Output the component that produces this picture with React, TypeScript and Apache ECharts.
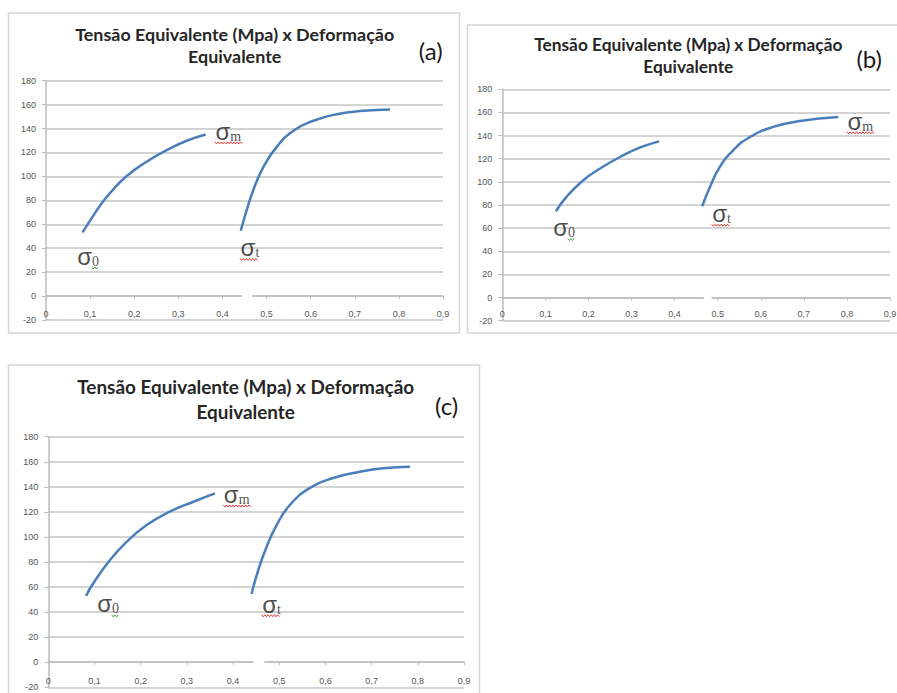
import React, { useEffect, useRef } from 'react';
import * as echarts from 'echarts';

// ---------- data ----------
const titleLine1 = 'Tensão Equivalente (Mpa) x Deformação';
const titleLine2 = 'Equivalente';
const panelTags = ['(a)', '(b)', '(c)'];

const yMin = -20;
const yMax = 180;
const yStep = 20;
const xMin = 0;
const xMax = 0.9;
const xStep = 0.1;

// Panel (a)
const aCurve1 = [[0.083, 53.2], [0.0998, 63], [0.1224, 75.5], [0.145, 86], [0.183, 100.3], [0.228, 112.2], [0.274, 122], [0.319, 129.8], [0.362, 135.1]];
const aCurve2 = [[0.4415, 54.6], [0.455, 71.8], [0.47, 88.6], [0.493, 108], [0.523, 124.7], [0.561, 138.2], [0.606, 146.5], [0.659, 152], [0.719, 154.8], [0.78, 156]];
// Panel (b)
const bCurve1 = [[0.1246, 74.6], [0.149, 87], [0.188, 101.4], [0.227, 111.5], [0.273, 121.5], [0.319, 129.6], [0.364, 135]];
const bCurve2 = [[0.464, 78.9], [0.482, 95.6], [0.505, 112.9], [0.536, 127.3], [0.575, 138.8], [0.629, 147.5], [0.691, 152.6], [0.78, 156]];
// Panel (c)
const cCurve1 = [[0.0816, 52.9], [0.0975, 63], [0.1336, 81.6], [0.17, 96.2], [0.213, 109.5], [0.263, 120.2], [0.314, 128.1], [0.361, 134.8]];
const cCurve2 = [[0.44, 54.5], [0.4546, 73.6], [0.4727, 92.2], [0.4944, 109.5], [0.523, 125.5], [0.5666, 139.2], [0.617, 147], [0.675, 152], [0.725, 154.8], [0.783, 156]];

// break in the zero line
const aGap = [[0.444, 0], [0.468, 0]];
const bGap = [[0.468, 0], [0.486, 0]];
const cGap = [[0.444, 0], [0.468, 0]];

// sigma annotations: [x, y, subscript, mark colour]
const aLabels: [number, number, string, string][] = [[0.0696, 32.6, '0', 'green'], [0.383, 136.8, 'm', 'red'], [0.44, 39.4, 't', 'red']];
const bLabels: [number, number, string, string][] = [[0.117, 59.6, '0', 'green'], [0.8, 151.5, 'm', 'red'], [0.486, 71.6, 't', 'red']];
const cLabels: [number, number, string, string][] = [[0.105, 45.7, '0', 'green'], [0.379, 133.1, 'm', 'red'], [0.462, 45.5, 't', 'red']];

const curves = [[aCurve1, aCurve2], [bCurve1, bCurve2], [cCurve1, cCurve2]];
const gaps = [aGap, bGap, cGap];
const labels = [aLabels, bLabels, cLabels];

// ---------- layout ----------
const grids = [
  { left: 46, top: 80.7, width: 397, height: 239.3 },
  { left: 502.3, top: 89.3, width: 387.7, height: 231.4 },
  { left: 48.3, top: 436.7, width: 415.7, height: 250.6 },
];
const frames = [
  { x: 8.5, y: 13, w: 451, h: 320 },
  { x: 467.5, y: 25, w: 432, h: 308 },
  { x: 8.5, y: 365, w: 471, h: 340 },
];
const titlePos = [
  { x: 234.7, y1: 33.5, y2: 56.2, size: 17.9 },
  { x: 688.3, y1: 44, y2: 66.3, size: 17.3 },
  { x: 245.7, y1: 386.5, y2: 411.2, size: 18.9 },
];
const tagPos = [
  { x: 430.8, y: 50 },
  { x: 869.2, y: 58 },
  { x: 446.7, y: 405 },
];

const BLUE = '#4a7ebb';
const GRID = '#c4c4c4';
const AXIS = '#bdbdbd';
const LABEL = '#555555';

function wavy(x0: number, x1: number, y: number): number[][] {
  const pts: number[][] = [];
  let up = true;
  for (let x = x0; x <= x1; x += 1.6) {
    pts.push([x, up ? y - 1 : y + 1]);
    up = !up;
  }
  return pts;
}

export default function App() {
  const ref = useRef<HTMLDivElement>(null);
  useEffect(() => {
    if (!ref.current) return;
    const chart = echarts.init(ref.current, undefined, { renderer: 'svg' });

    const xAxis = grids.map((_, i) => ({
      type: 'value',
      gridIndex: i,
      min: xMin,
      max: xMax,
      interval: xStep,
      axisLine: { show: true, onZero: true, lineStyle: { color: AXIS, width: 1.5 } },
      axisTick: { show: true, length: 3, lineStyle: { color: AXIS } },
      axisLabel: {
        color: LABEL,
        fontSize: 9,
        fontFamily: 'Liberation Sans',
        margin: -11,
        formatter: (v: number) => (Math.abs(v) < 1e-9 ? '0' : v.toFixed(1).replace('.', ',')),
      },
      splitLine: { show: false },
    }));
    const yAxis = grids.map((_, i) => ({
      type: 'value',
      gridIndex: i,
      min: yMin,
      max: yMax,
      interval: yStep,
      axisLine: { show: true, lineStyle: { color: AXIS, width: 1.5 } },
      axisTick: { show: true, length: 4, lineStyle: { color: AXIS } },
      axisLabel: { color: LABEL, fontSize: 9, fontFamily: 'Liberation Sans', margin: 10 },
      splitLine: { show: true, lineStyle: { color: GRID, width: 1.5 } },
    }));

    const series: any[] = [];
    curves.forEach((pair, i) => {
      pair.forEach((c) => {
        series.push({
          type: 'line',
          xAxisIndex: i,
          yAxisIndex: i,
          data: c,
          smooth: 0.5,
          showSymbol: false,
          symbol: 'none',
          lineStyle: { color: BLUE, width: 2.5 },
          z: 3,
        });
      });
      series.push({
        type: 'line',
        xAxisIndex: i,
        yAxisIndex: i,
        data: gaps[i],
        symbol: 'none',
        lineStyle: { color: '#ffffff', width: 4 },
        z: 4,
      });
      series.push({
        type: 'scatter',
        xAxisIndex: i,
        yAxisIndex: i,
        symbolSize: 1,
        itemStyle: { color: 'rgba(0,0,0,0)' },
        data: labels[i].map((l) => ({ value: [l[0], l[1]], sub: l[2] })),
        label: {
          show: true,
          position: 'right',
          distance: 0,
          offset: [0, -1],
          formatter: (p: any) => '{s|σ}{b|' + p.data.sub + '}',
          rich: {
            s: { fontSize: 24, lineHeight: 24, fontFamily: 'Liberation Sans', color: '#1a1a1a' },
            b: { fontSize: 14, lineHeight: 10, verticalAlign: 'bottom', fontFamily: 'Liberation Serif', color: '#1a1a1a' },
          },
        },
        z: 5,
      });
    });

    const baseGraphic: any[] = [];
    frames.forEach((f) => {
      baseGraphic.push({
        type: 'rect',
        shape: { x: f.x, y: f.y, width: f.w, height: f.h },
        style: { fill: 'none', stroke: '#d6d6d6', lineWidth: 1.5 },
        z: 0,
        silent: true,
      });
    });
    titlePos.forEach((t, i) => {
      baseGraphic.push({
        type: 'text',
        x: t.x,
        y: t.y1,
        style: { text: titleLine1, fontSize: t.size, fontWeight: 'bold', fontFamily: 'Lato', fill: '#262626', align: 'center', verticalAlign: 'middle' },
      });
      baseGraphic.push({
        type: 'text',
        x: t.x,
        y: t.y2,
        style: { text: titleLine2, fontSize: t.size, fontWeight: 'bold', fontFamily: 'Lato', fill: '#262626', align: 'center', verticalAlign: 'middle' },
      });
      baseGraphic.push({
        type: 'text',
        x: tagPos[i].x,
        y: tagPos[i].y,
        style: { text: panelTags[i], fontSize: 24, fontFamily: 'Lato', fill: '#1a1a1a', align: 'center', verticalAlign: 'middle' },
      });
    });

    const option: any = {
      animation: false,
      backgroundColor: '#ffffff',
      grid: grids.map((g) => ({ ...g, containLabel: false, outerBoundsMode: 'none' })),
      xAxis,
      yAxis,
      series,
      graphic: baseGraphic,
    };
    chart.setOption(option);

    // spell-check style wavy marks under the annotations
    const marks: any[] = [];
    labels.forEach((set, i) => {
      set.forEach((l) => {
        const p = chart.convertToPixel({ xAxisIndex: i, yAxisIndex: i } as any, [l[0], l[1]]) as number[];
        if (!p) return;
        if (l[3] === 'red') {
          const w = l[2] === 'm' ? 28 : 18;
          marks.push({ type: 'polyline', shape: { points: wavy(p[0], p[0] + w, p[1] + 10.5) }, style: { stroke: '#e02020', lineWidth: 0.9, fill: 'none' }, z: 10, silent: true });
        } else {
          marks.push({ type: 'polyline', shape: { points: wavy(p[0] + 15, p[0] + 22, p[1] + 11) }, style: { stroke: '#2a9a2a', lineWidth: 0.9, fill: 'none' }, z: 10, silent: true });
        }
      });
    });
    chart.setOption({ graphic: baseGraphic.concat(marks) }, { replaceMerge: ['graphic'] } as any);

    return () => chart.dispose();
  }, []);
  return <div ref={ref} style={{ position: 'absolute', left: 0, top: 0, width: 897, height: 693 }} />;
}
